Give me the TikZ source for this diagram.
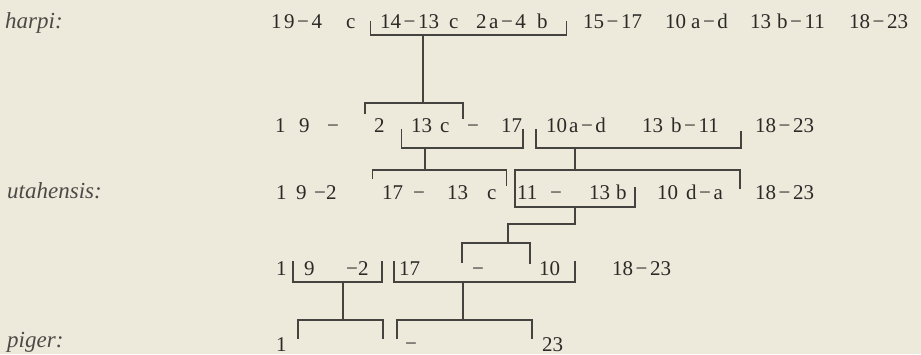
\documentclass[tikz,border=0pt]{standalone}
\usepackage{fontspec}
\setmainfont{Liberation Serif}
\definecolor{paperBg}{HTML}{EDE9DB}
\definecolor{inkText}{HTML}{2B2A27}
\definecolor{inkLine}{HTML}{44433F}
\newcommand{\mn}{\hspace{0.12em}−\hspace{0.12em}}

\begin{document}
\begin{tikzpicture}[
    x=1pt, y=-1pt,
    seg/.style    = {font=\fontsize{21}{23}\selectfont, anchor=base west, inner sep=0pt, text=inkText},
    spname/.style = {font=\fontsize{23}{25}\selectfont\itshape, anchor=base west, inner sep=0pt, text=inkText!85},
    brk/.style    = {draw=inkLine, line width=1.1pt, line cap=rect}
  ]
  \fill[paperBg] (0,0) rectangle (921,354);
  \useasboundingbox (0,0) rectangle (921,354);

  %% harpi
  \node[spname] (harpi) at (5,28) {harpi:};
  \node[seg] (h1)  at (271,28) {1};
  \node[seg] (h2)  at (284,28) {9\mn4};
  \node[seg] (h3)  at (346,28) {c};
  \node[seg] (h4)  at (380,28) {14\mn13};
  \node[seg] (h5)  at (449,28) {c};
  \node[seg] (h6)  at (476,28) {2};
  \node[seg] (h7)  at (489,28) {a\mn4};
  \node[seg] (h8)  at (537,28) {b};
  \node[seg] (h9)  at (583,28) {15\mn17};
  \node[seg] (h10) at (665,28) {10};
  \node[seg] (h11) at (691,28) {a\mn d};
  \node[seg] (h12) at (750,28) {13};
  \node[seg] (h13) at (777,28) {b\mn11};
  \node[seg] (h14) at (849,28) {18\mn23};
  \draw[brk] (370.7,22) |- (566.7,35) -- (566.7,22);
  \draw[brk] (423,35) -- (423,103);

  %% intermediate 1
  \node[seg] (m1)  at (275,132) {1};
  \node[seg] (m2)  at (299,132) {9};
  \node[seg] (m3)  at (327,132) {−};
  \node[seg] (m4)  at (374,132) {2};
  \node[seg] (m5)  at (411,132) {13};
  \node[seg] (m6)  at (440,132) {c};
  \node[seg] (m7)  at (467,132) {−};
  \node[seg] (m8)  at (501,132) {17};
  \node[seg] (m9)  at (546,132) {10};
  \node[seg] (m10) at (569,132) {a\mn d};
  \node[seg] (m11) at (642,132) {13};
  \node[seg] (m12) at (671,132) {b\mn11};
  \node[seg] (m13) at (755,132) {18\mn23};
  \draw[brk] (365,113) |- (463,103) -- (463,118);
  \draw[brk] (401.7,130) |- (523,148) -- (523,130);
  \draw[brk] (425,148) -- (425,170);
  \draw[brk] (536,130) |- (741,148) -- (741,132);
  \draw[brk] (575,148) -- (575,170);

  %% utahensis
  \node[spname] (utah) at (7,198) {utahensis:};
  \node[seg] (u1)  at (276,199) {1};
  \node[seg] (u2)  at (296,199) {9};
  \node[seg] (u3)  at (314,199) {−2};
  \node[seg] (u4)  at (382,199) {17};
  \node[seg] (u5)  at (413,199) {−};
  \node[seg] (u6)  at (447,199) {13};
  \node[seg] (u7)  at (487,199) {c};
  \node[seg] (u8)  at (517,199) {11};
  \node[seg] (u9)  at (550,199) {−};
  \node[seg] (u10) at (589,199) {13};
  \node[seg] (u11) at (616,199) {b};
  \node[seg] (u12) at (657,199) {10};
  \node[seg] (u13) at (686,199) {d\mn a};
  \node[seg] (u14) at (755,199) {18\mn23};
  \draw[brk] (372.7,178) |- (506.7,170) -- (506.7,185);
  \draw[brk] (740,188) -- (740,170) -- (515,170) -- (515,207) -- (635,207) -- (635,188);
  \draw[brk] (575,207) -- (575,224) -- (508,224) -- (508,243);

  %% intermediate 2
  \node[seg] (n1) at (276,275) {1};
  \node[seg] (n2) at (304,275) {9};
  \node[seg] (n3) at (346,275) {−2};
  \node[seg] (n4) at (399,275) {17};
  \node[seg] (n5) at (472,275) {−};
  \node[seg] (n6) at (539,275) {10};
  \node[seg] (n7) at (612,275) {18\mn23};
  \draw[brk] (462,262) |- (530,243) -- (530,263);
  \draw[brk] (293,262) |- (382,282) -- (382,262);
  \draw[brk] (343,282) -- (343,320);
  \draw[brk] (394,262) |- (575,282) -- (575,262);
  \draw[brk] (463,282) -- (463,320);

  %% piger
  \node[spname] (piger) at (7,347) {piger:};
  \node[seg] (p1) at (276,351) {1};
  \node[seg] (p2) at (405,350) {−};
  \node[seg] (p3) at (542,351) {23};
  \draw[brk] (298,338) |- (383,320) -- (383,338);
  \draw[brk] (397,338) |- (532,320) -- (532,338);
\end{tikzpicture}
\end{document}
